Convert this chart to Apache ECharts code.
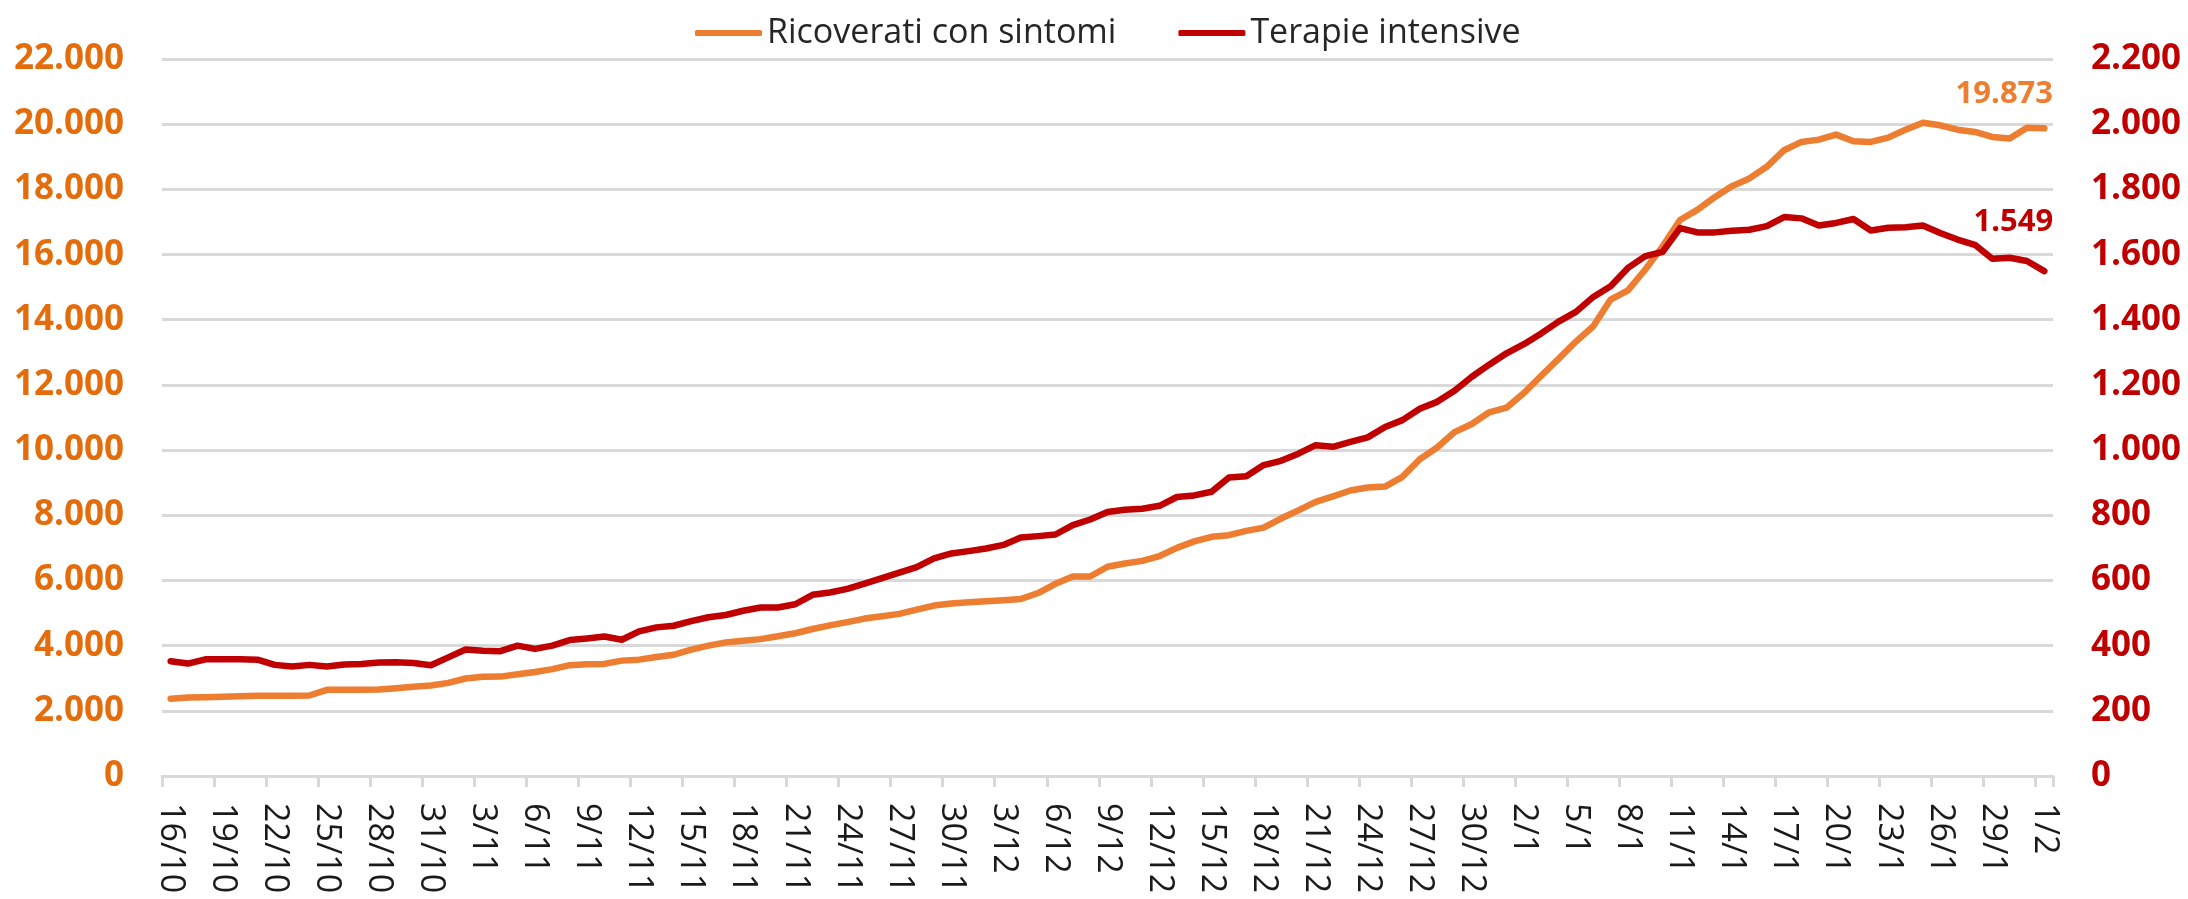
<!DOCTYPE html>
<html>
<head>
<meta charset="utf-8">
<script src="https://cdn.jsdelivr.net/npm/echarts@6/dist/echarts.min.js"></script>
<style>
    html, body { margin: 0; padding: 0; background: #fff; }
    #chart { width: 2188px; height: 899px; }
</style>
</head>
<body>
<div id="chart"></div>
<script>
// day ranges per month: [first day, last day, month]
var monthSpans = [[16, 31, 10], [1, 30, 11], [1, 31, 12], [1, 31, 1], [1, 1, 2]];
var dates = [];
monthSpans.forEach(function (m) {
    for (var d = m[0]; d <= m[1]; d++) dates.push(d + '/' + m[2]);
});

var ricoverati = [
    2368, 2409, 2419, 2429, 2450, 2460, 2460, 2460, 2470, 2644,
    2644, 2644, 2654, 2695, 2736, 2777, 2858, 2991, 3042, 3050,
    3120, 3190, 3280, 3400, 3430, 3440, 3540, 3570, 3650, 3720,
    3880, 4000, 4100, 4150, 4200, 4290, 4380, 4510, 4620, 4720,
    4830, 4900, 4975, 5107, 5229, 5290, 5330, 5361, 5391, 5432,
    5614, 5898, 6122, 6122, 6420, 6520, 6600, 6750, 7000, 7200,
    7340, 7390, 7520, 7620, 7900, 8150, 8410, 8580, 8760, 8850,
    8880, 9180, 9720, 10080, 10550, 10800, 11160, 11300, 11750, 12280,
    12800, 13330, 13800, 14620, 14900, 15540, 16250, 17060, 17370, 17760,
    18100, 18336, 18692, 19201, 19456, 19527, 19680, 19476, 19456, 19588,
    19832, 20046, 19965, 19832, 19761, 19608, 19558, 19894, 19873
];

var terapie = [
    352, 345, 358, 358, 358, 357, 341, 336, 341, 336,
    342, 344, 348, 349, 347, 340, 364, 388, 384, 383,
    400, 390, 400, 417, 422, 428, 418, 444, 456, 461,
    475, 487, 494, 507, 517, 517, 527, 556, 563, 574,
    590, 607, 624, 641, 668, 683, 690, 698, 709, 732,
    736, 741, 770, 787, 810, 817, 820, 829, 856, 861,
    872, 916, 920, 954, 967, 989, 1015, 1010, 1025, 1039,
    1071, 1092, 1127, 1148, 1182, 1225, 1262, 1297, 1325, 1358,
    1394, 1424, 1470, 1503, 1559, 1595, 1608, 1681, 1668, 1668,
    1673, 1676, 1687, 1715, 1711, 1689, 1697, 1709, 1674, 1682,
    1684, 1689, 1666, 1646, 1630, 1587, 1590, 1580, 1549
];

var font = 'Open Sans';
var orange = '#ED7D31',
    orangeText = '#E46C0A',
    red = '#C00000',
    gridGray = '#D9D9D9';

// italian thousands separator
function fmt(v) {
    return String(v).replace(/\B(?=(\d{3})+(?!\d))/g, '.');
}

// only the last point gets its value printed
function withEndLabel(values, offset) {
    return values.map(function (v, i) {
        if (i < values.length - 1) return v;
        return {value: v, label: {show: true, offset: offset}};
    });
}

var chart = echarts.init(document.getElementById('chart'));

var option = {
    animation: false,
    backgroundColor: '#fff',
    grid: {left: 162, right: 135, top: 59, bottom: 123, containLabel: false},
    legend: {
        top: 11,
        left: 690,
        icon: 'roundRect',
        itemWidth: 67,
        itemHeight: 6,
        itemGap: 62,
        textStyle: {fontFamily: font, fontSize: 34, color: '#262626'},
        data: ['Ricoverati con sintomi', 'Terapie intensive']
    },
    xAxis: {
        type: 'category',
        data: dates,
        boundaryGap: true,
        axisLine: {lineStyle: {color: gridGray, width: 3}},
        axisTick: {show: true, interval: 2, length: 11, lineStyle: {color: gridGray, width: 3}},
        axisLabel: {interval: 2, rotate: -90, margin: 27, fontFamily: font, fontSize: 34, color: '#1a1a1a'}
    },
    yAxis: [
        {
            type: 'value',
            min: 0,
            max: 22000,
            interval: 2000,
            axisLine: {show: false},
            axisTick: {show: false},
            splitLine: {lineStyle: {color: gridGray, width: 3}},
            axisLabel: {
                margin: 38, fontFamily: font, fontSize: 35, fontWeight: 'bold', color: orangeText,
                formatter: fmt
            }
        },
        {
            type: 'value',
            position: 'right',
            min: 0,
            max: 2200,
            interval: 200,
            axisLine: {show: false},
            axisTick: {show: false},
            splitLine: {show: false},
            axisLabel: {
                margin: 38, fontFamily: font, fontSize: 35, fontWeight: 'bold', color: red,
                formatter: fmt
            }
        }
    ],
    series: [
        {
            name: 'Ricoverati con sintomi',
            type: 'line',
            yAxisIndex: 0,
            data: withEndLabel(ricoverati, [-40, -34]),
            showSymbol: true,
            showAllSymbol: true,
            symbol: 'circle',
            symbolSize: 0,
            itemStyle: {color: orange},
            lineStyle: {color: orange, width: 6.5, cap: 'round', join: 'round'},
            label: {
                show: false, position: 'inside', fontFamily: font, fontSize: 31, fontWeight: 'bold',
                color: orange, formatter: function (p) { return fmt(p.value); }
            },
            z: 2
        },
        {
            name: 'Terapie intensive',
            type: 'line',
            yAxisIndex: 1,
            data: withEndLabel(terapie, [-31, -49]),
            showSymbol: true,
            showAllSymbol: true,
            symbol: 'circle',
            symbolSize: 0,
            itemStyle: {color: red},
            lineStyle: {color: red, width: 6.5, cap: 'round', join: 'round'},
            label: {
                show: false, position: 'inside', fontFamily: font, fontSize: 31, fontWeight: 'bold',
                color: red, formatter: function (p) { return fmt(p.value); }
            },
            z: 3
        }
    ]
};

chart.setOption(option);
</script>
</body>
</html>
